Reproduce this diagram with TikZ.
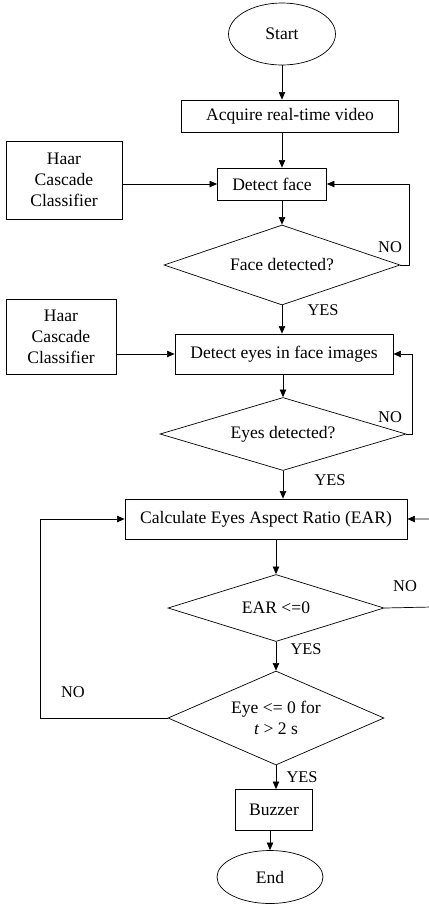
\documentclass[tikz,border=0pt]{standalone}
\usepackage{fontspec}
\setmainfont{Liberation Serif}
\usetikzlibrary{arrows.meta,positioning,shapes.geometric}
\tikzset{
    procbox/.style={
        draw,line width=0.6pt,align=center,inner sep=2pt,
        font=\fontsize{15pt}{18pt}\selectfont
    },
    terminal/.style={
        draw,ellipse,line width=0.6pt,inner sep=1pt,
        font=\fontsize{15pt}{18pt}\selectfont
    },
    decision/.style={
        draw,diamond,line width=0.6pt,inner sep=0pt,align=center,
        font=\fontsize{15pt}{18pt}\selectfont
    },
    arrow/.style={
        -{Triangle[length=6.5pt,width=5.5pt]},line width=0.6pt
    },
    lbl/.style={font=\fontsize{14pt}{16pt}\selectfont,inner sep=0pt}
}

\begin{document}
\begin{tikzpicture}[x=0.03cm,y=-0.03cm]
\useasboundingbox (0,0) rectangle (429,916);

% main column
\node[terminal,minimum width=3.21cm,minimum height=1.86cm] (start) at (282,34) {Start};
\node[procbox,minimum width=6.51cm,minimum height=0.96cm] (acquire) at (290,116) {Acquire real-time video};
\node[procbox,minimum width=3.27cm,minimum height=0.96cm] (detface) at (272,184) {Detect face};
\node[decision,aspect=2.95,minimum width=7.08cm,minimum height=2.4cm] (face) at (282,265) {Face detected?};
\node[procbox,minimum width=6.54cm,minimum height=1.2cm] (deteyes) at (284,354) {Detect eyes in face images};
\node[decision,aspect=3.3,minimum width=7.38cm,minimum height=2.19cm] (eyes) at (283,434) {Eyes detected?};
\node[procbox,minimum width=8.46cm,minimum height=1.2cm] (calc) at (266,519) {Calculate Eyes Aspect Ratio (EAR)};
\node[decision,aspect=3.2,minimum width=6.48cm,minimum height=2.01cm] (ear) at (276,608) {EAR <=0};
\node[decision,aspect=2.3,minimum width=6.48cm,minimum height=2.82cm] (eye) at (276,718) {Eye <= 0 for\\\textit{t} > 2 s};
\node[procbox,minimum width=2.31cm,minimum height=1.23cm] (buzzer) at (274,810) {Buzzer};
\node[terminal,minimum width=3.18cm,minimum height=1.59cm] (end) at (270,877) {End};

% classifiers
\node[procbox,minimum width=3.48cm,minimum height=2.34cm] (haara) at (64,180) {Haar\\Cascade\\Classifier};
\node[procbox,minimum width=3.3cm,minimum height=2.25cm] (haarb) at (61,337) {Haar\\Cascade\\Classifier};

% return points
\coordinate (earback) at (432,607);
\coordinate (eyeback) at (40,718);

% flow
\draw[arrow] (start) -- (start |- acquire.north);
\draw[arrow] (acquire.south -| start) -- (start |- detface.north);
\draw[arrow] (detface.south -| face) -- (face);
\draw[arrow] (face) -- (face |- deteyes.north);
\draw[arrow] (deteyes.south -| eyes) -- (eyes);
\draw[arrow] (eyes) -- (eyes |- calc.north);
\draw[arrow] (calc.south -| ear) -- (ear);
\draw[arrow] (ear) -- (eye);
\draw[arrow] (eye) -- (eye |- buzzer.north);
\draw[arrow] (buzzer.south -| end) -- (end);

\draw[arrow] (haara.east |- detface) -- (detface);
\draw[arrow] (haarb.east |- deteyes) -- (deteyes);

% loops
\draw[arrow] (face.east) -- ++(9,0) |- (detface.east);
\draw[arrow] (eyes.east) -- ++(6,0) |- (deteyes.east);
\draw[arrow] (ear.east) -- (earback) |- (calc.east);
\draw[arrow] (eye.west) -- (eyeback) |- (calc.west);

% labels
\node[lbl] (noface) at (390,247) {NO};
\node[lbl] (yesface) at (323,310) {YES};
\node[lbl] (noeyes) at (390,417) {NO};
\node[lbl] (yeseyes) at (330,480) {YES};
\node[lbl] (noear) at (405,586) {NO};
\node[lbl] (yesear) at (306,649) {YES};
\node[lbl] (noeye) at (73,692) {NO};
\node[lbl] (yeseye) at (302,777) {YES};

\end{tikzpicture}
\end{document}
